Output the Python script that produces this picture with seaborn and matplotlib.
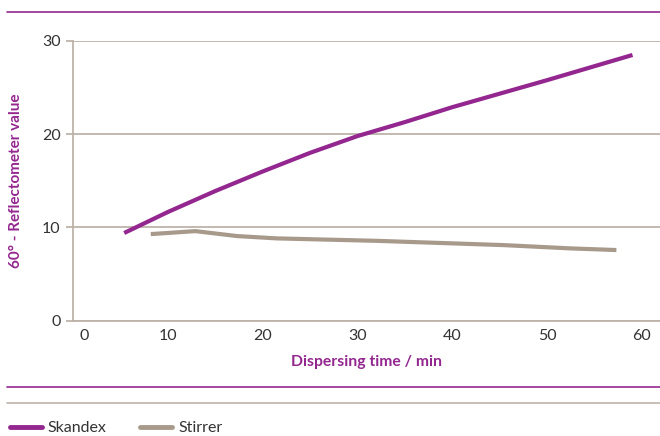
import pandas as pd
import matplotlib.pyplot as plt
import matplotlib.transforms as mtransforms
from matplotlib.lines import Line2D
import seaborn as sns

# Values
skandex_time = [5.4, 10, 15, 20, 25, 30, 35, 40, 45, 50, 55, 59]
skandex_value = [9.4, 11.65, 13.9, 16.0, 18.0, 19.8, 21.3, 22.9, 24.35, 25.8, 27.3, 28.5]
stirrer_time = [8.2, 12.9, 17.3, 21.5, 32, 45.4, 52.4, 57.3]
stirrer_value = [9.28, 9.6, 9.07, 8.82, 8.56, 8.1, 7.75, 7.57]
x_ticks = [0, 10, 20, 30, 40, 50, 60]
y_ticks = [0, 10, 20, 30]

PURPLE = '#93278F'
TAUPE = '#A89A8B'
GRID = '#BDB3A9'
TEXT = '#333333'

df = pd.concat([
    pd.DataFrame({'time': skandex_time, 'value': skandex_value, 'series': 'Skandex'}),
    pd.DataFrame({'time': stirrer_time, 'value': stirrer_value, 'series': 'Stirrer'}),
])

sns.set_theme(style='white')
plt.rcParams['font.family'] = ['Lato', 'DejaVu Sans']

fig = plt.figure(figsize=(6.6, 4.36), dpi=100)
ax = fig.add_axes([73 / 660, 1 - 320.6 / 436, 1 - 73 / 660, (320.6 - 41) / 436])

sns.lineplot(data=df, x='time', y='value', hue='series',
             palette={'Skandex': PURPLE, 'Stirrer': TAUPE},
             linewidth=3.0, ax=ax, legend=False, sort=False,
             solid_joinstyle='round', solid_capstyle='butt')

ax.set_xlim(0, 61.9)
ax.set_ylim(0, 30)
ax.set_xticks(x_ticks)
ax.set_yticks(y_ticks)
ax.yaxis.grid(True, color=GRID, linewidth=1.3)
ax.set_axisbelow(True)
for side in ['top', 'right']:
    ax.spines[side].set_visible(False)
for side in ['left', 'bottom']:
    ax.spines[side].set_color(GRID)
    ax.spines[side].set_linewidth(1.3)

ax.tick_params(axis='y', length=5, width=1.3, color=GRID, labelsize=11.5,
               labelcolor=TEXT, pad=4, left=True)
ax.tick_params(axis='x', length=0, labelsize=11.5, labelcolor=TEXT, pad=6)

# first x label sits a little right of the spine
first = ax.get_xticklabels()[0]
first.set_transform(first.get_transform() +
                    mtransforms.ScaledTranslation(11 / 100, 0, fig.dpi_scale_trans))

ax.set_xlabel('Dispersing time / min', color=PURPLE, fontsize=11.3,
              fontweight='bold', labelpad=9)
ax.set_ylabel('60° - Reflectometer value', color=PURPLE, fontsize=11,
              fontweight='bold')
ax.yaxis.set_label_coords(-50 / 587, 0.5)

# rules above and below the chart
fig.add_artist(Line2D([7 / 660, 1], [1 - 12 / 436] * 2, color=PURPLE, linewidth=1.2))
fig.add_artist(Line2D([7 / 660, 1], [1 - 387 / 436] * 2, color=PURPLE, linewidth=1.2))
fig.add_artist(Line2D([7 / 660, 1], [1 - 403 / 436] * 2, color=GRID, linewidth=1.2))

handles = [Line2D([], [], color=PURPLE, linewidth=3.5),
           Line2D([], [], color=TAUPE, linewidth=3.5)]
fig.legend(handles, ['Skandex', 'Stirrer'], loc='lower left',
           bbox_to_anchor=(0.0, -0.02), ncol=2, frameon=False,
           fontsize=11.5, handlelength=2.0, handletextpad=0.4,
           columnspacing=2.1, labelcolor=TEXT, borderaxespad=0.2)

fig.savefig('out.png', dpi=100)
